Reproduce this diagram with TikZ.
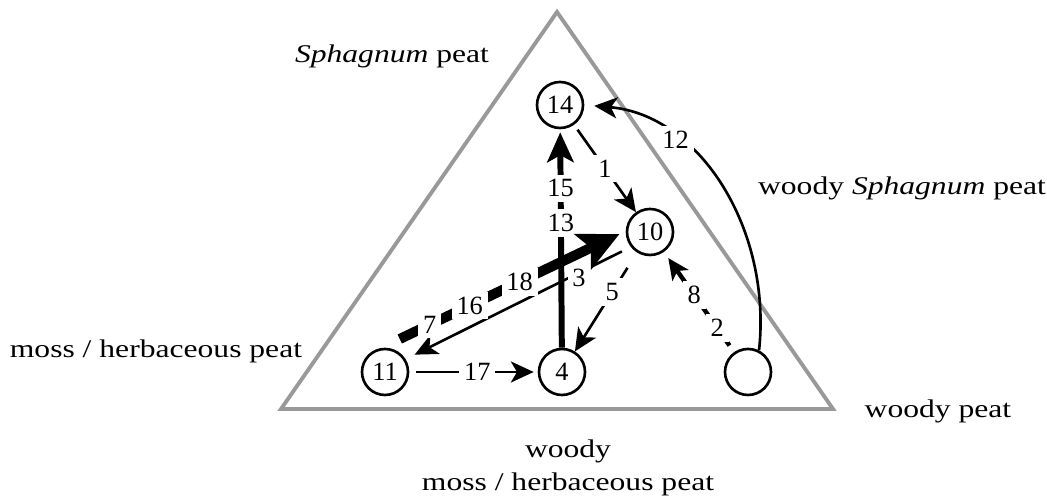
\documentclass[tikz,border=0pt]{standalone}
\usepackage{fontspec}
\setmainfont{Liberation Serif}[FakeStretch=1.24]
\newfontfamily\numfont{Liberation Serif}
\usetikzlibrary{arrows.meta}

\begin{document}
\begin{tikzpicture}[
  region/.style={font=\fontsize{14.5}{18.7}\selectfont, inner sep=0pt},
  peatv/.style={circle, draw=black, line width=1.5pt, minimum size=9.2mm, inner sep=0pt, font=\numfont\fontsize{15}{17}\selectfont},
  lbl/.style={fill=white, inner sep=2.8pt, font=\numfont\fontsize{15}{17}\selectfont},
  wall/.style={draw=black!40, line width=2.2pt, line join=miter},
  thinedge/.style={draw=black, line width=1.5pt, -{Stealth[length=13pt, width=12pt, inset=3.5pt]}},
  dashedge/.style={draw=black, line width=2.5pt, -{Stealth[length=12pt, width=11pt, inset=3pt]}},
  stemedge/.style={draw=black, line width=3.4pt, -{Stealth[length=17pt, width=15pt, inset=4pt]}},
  bigedge/.style={draw=black, line width=5.7pt, -{Stealth[length=23pt, width=22pt, inset=5pt]}}
]
\useasboundingbox (0,0) rectangle (20.94,10);

% ternary frame
\coordinate (apex) at (11.14, 9.76);
\coordinate (lcorner) at (5.62, 1.82);
\coordinate (rcorner) at (16.66, 1.82);
\draw[wall] (apex) -- (lcorner) -- (rcorner) -- cycle;

% corner and side labels
\node[region, anchor=base] (lsph) at (7.84, 8.74) {\textit{Sphagnum} peat};
\node[region, anchor=base] (lwsph) at (18.04, 6.10) {woody \textit{Sphagnum} peat};
\node[region, anchor=base] (lmoss) at (3.12, 2.84) {moss / herbaceous peat};
\node[region, anchor=base] (lwood) at (18.76, 1.64) {woody peat};
\node[region, anchor=north, align=center] (lwmoss) at (11.36, 1.21) {woody\\moss / herbaceous peat};

% peat types
\node[peatv] (n14) at (11.20, 7.90) {14};
\node[peatv] (n10) at (13.00, 5.36) {10};
\node[peatv] (n11) at (7.70, 2.56) {11};
\node[peatv] (n4) at (11.24, 2.56) {4};
\node[peatv] (nw) at (14.96, 2.56) {};

% transitions
\draw[thinedge, shorten <=0.12cm] (n14) -- node[lbl, pos=0.5] {1} (n10);
\draw[thinedge, shorten <=0.36cm] (n10) -- node[lbl, pos=0.4] {5} (n4);
\draw[thinedge, shorten <=0.14cm, shorten >=0.08cm] (n11) -- node[lbl, pos=0.53] {17} (n4);
\draw[thinedge, shorten <=0.2cm, shorten >=0.2cm] (n10.218) -- node[lbl, pos=0.23, yshift=-0.1cm] {3} (n11.32);
\draw[stemedge, shorten >=0.06cm] (n4) -- node[lbl, pos=0.57] {13} node[lbl, pos=0.73] {15} (n14);
\draw[bigedge, shorten <=0.42cm, shorten >=0.14cm] (n11.100) -- node[lbl, pos=0.2] {7} node[lbl, pos=0.363] {16} node[lbl, pos=0.567] {18} (n10.178);
\draw[dashedge, shorten <=0.16cm, shorten >=0.15cm] (nw) -- node[lbl, pos=0.24] {2} node[lbl, pos=0.57] {8} (n10);
\draw[thinedge, shorten >=0.2cm] (nw.63) .. controls (15.44,5.40) and (14.00,7.70) .. node[lbl, pos=0.7] {12} (n14.east);

\end{tikzpicture}
\end{document}
